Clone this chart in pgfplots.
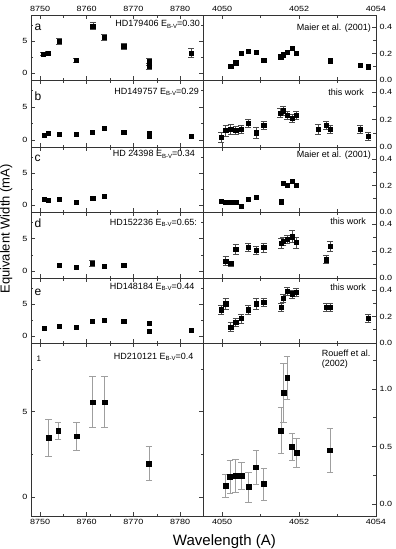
\documentclass[border=0pt]{standalone}
\usepackage{fontspec}
\setmainfont{Liberation Sans}
\newfontfamily\tickfont{Liberation Sans}[FakeStretch=1.2]
\usepackage{pgfplots}
\pgfplotsset{compat=1.18}
\newcommand{\ebv}{E\raisebox{-1.8pt}{\fontsize{6}{6}\selectfont B-V}}
\pgfplotsset{
  panel/.style={scale only axis, anchor=north west,
    axis line style={black!80, line width=0.6pt},
    tick align=inside, major tick length=4pt, minor tick length=2.5pt,
    every tick/.append style={black!75, line width=0.5pt},
    tick label style={font=\tickfont\fontsize{7.5}{8}\selectfont},
    /pgf/number format/assume math mode=true,
    /pgf/number format/1000 sep={},
    xtick pos=both},
  Lp/.style={panel, width=172pt, xmin=8748.07, xmax=8784.9,
    xtick={8750,8760,8770,8780}, minor xtick={8755,8765,8775},
    ymin=-1.05, ymax=9.1, ytick={0,5}, minor ytick={2.5,7.5},
    ytick pos=both, yticklabel pos=left},
  Rp/.style={panel, width=173pt, xmin=4049.5, xmax=4054,
    xtick={4050,4052,4054}, minor xtick={4051,4053},
    ymin=0, ymax=0.49, ytick={0,0.2,0.4}, minor ytick={0.1,0.3},
    ytick pos=right, yticklabel pos=right,
    yticklabel style={/pgf/number format/.cd, fixed, fixed zerofill, precision=1}},
  nolab/.style={xticklabels={}},
  toplab/.style={xticklabel pos=top},
  botlab/.style={xticklabel pos=bottom},
  pts/.style={only marks, mark=square*, mark size=2.1pt, color=black, mark options={fill=black, solid}},
  eb/.style={error bars/y dir=both, error bars/y explicit,
     error bars/error bar style={black!70, line width=0.5pt},
     error bars/error mark options={rotate=90, black!70, mark size=3pt, line width=0.5pt}},
  ebg/.style={error bars/y dir=both, error bars/y explicit,
     error bars/error bar style={gray!75, line width=0.5pt},
     error bars/error mark options={rotate=90, gray!75, mark size=3.2pt, line width=0.5pt}},
}
\begin{document}
\begin{tikzpicture}
\useasboundingbox (0pt,0pt) rectangle (396pt,-549pt);
% ---------------- panel a ----------------
\begin{axis}[Lp, toplab, at={(31pt,-15pt)}, height=65pt]
\addplot[pts, eb] coordinates {
(8750.7,3.04) +- (0,0.3)
(8751.8,3.19) +- (0,0.25)
(8754.1,5.0) +- (0,0.4)
(8757.7,2.0) +- (0,0.3)
(8761.3,7.4) +- (0,0.5)
(8763.8,5.67) +- (0,0.5)
(8767.9,4.22) +- (0,0.4)
(8773.4,1.8) +- (0,0.5)
(8773.3,1.13) +- (0,0.5)
(8782.4,3.14) +- (0,0.7)
};
\end{axis}
\begin{axis}[Rp, toplab, at={(203pt,-15pt)}, height=65pt]
\addplot[pts] coordinates {
(4050.22,0.105) (4050.35,0.13) (4050.50,0.20) (4050.68,0.215) (4050.88,0.21)
(4051.08,0.15) (4051.52,0.175) (4051.59,0.19) (4051.69,0.21) (4051.81,0.24)
(4051.93,0.205) (4052.80,0.145) (4053.59,0.113) (4053.80,0.10)
};
\end{axis}
% ---------------- panel b ----------------
\begin{axis}[Lp, nolab, at={(31pt,-80pt)}, height=67pt]
\addplot[pts] coordinates {
(8750.86,0.71) (8751.8,1.07) (8754.1,0.92) (8757.7,0.92) (8761.2,1.17)
(8763.8,1.79) (8767.9,1.22) (8773.3,1.02) (8773.4,0.56) (8782.4,0.61)
};
\end{axis}
\begin{axis}[Rp, nolab, at={(203pt,-80pt)}, height=67pt]
\addplot[pts, eb] coordinates {
(4049.97,0.07) +- (0,0.035)
(4050.09,0.12) +- (0,0.04)
(4050.22,0.13) +- (0,0.04)
(4050.35,0.12) +- (0,0.03)
(4050.50,0.13) +- (0,0.03)
(4050.68,0.175) +- (0,0.03)
(4050.88,0.105) +- (0,0.04)
(4051.08,0.16) +- (0,0.03)
(4051.51,0.25) +- (0,0.03)
(4051.59,0.265) +- (0,0.03)
(4051.69,0.23) +- (0,0.03)
(4051.81,0.21) +- (0,0.03)
(4051.93,0.23) +- (0,0.03)
(4052.49,0.13) +- (0,0.04)
(4052.70,0.16) +- (0,0.03)
(4052.80,0.13) +- (0,0.03)
(4053.59,0.13) +- (0,0.03)
(4053.80,0.08) +- (0,0.03)
};
\end{axis}
% ---------------- panel c ----------------
\begin{axis}[Lp, nolab, at={(31pt,-147pt)}, height=65pt]
\addplot[pts] coordinates {
(8750.86,0.92) (8751.8,0.77) (8754.1,0.92) (8757.7,0.51) (8761.3,1.13) (8763.8,1.44)
};
\end{axis}
\begin{axis}[Rp, nolab, at={(203pt,-147pt)}, height=65pt]
\addplot[pts] coordinates {
(4049.97,0.081) (4050.09,0.076) (4050.22,0.071) (4050.35,0.071) (4050.50,0.043)
(4050.68,0.096) (4050.88,0.111) (4051.53,0.078) (4051.59,0.22) (4051.69,0.205)
(4051.81,0.233) (4051.93,0.20)
};
\end{axis}
% ---------------- panel d ----------------
\begin{axis}[Lp, nolab, at={(31pt,-212pt)}, height=66pt]
\addplot[pts] coordinates {
(8754.1,0.86) (8757.7,0.56) (8763.8,0.81) (8767.9,0.86)
};
\addplot[pts, eb] coordinates {
(8761.2,1.21) +- (0,0.5)
};
\end{axis}
\begin{axis}[Rp, nolab, at={(203pt,-212pt)}, height=66pt]
\addplot[pts, eb] coordinates {
(4050.09,0.126) +- (0,0.035)
(4050.22,0.108) +- (0,0.02)
(4050.35,0.214) +- (0,0.035)
(4050.68,0.226) +- (0,0.03)
(4050.88,0.204) +- (0,0.03)
(4051.08,0.226) +- (0,0.035)
(4051.53,0.257) +- (0,0.035)
(4051.59,0.274) +- (0,0.03)
(4051.69,0.287) +- (0,0.03)
(4051.81,0.307) +- (0,0.045)
(4051.93,0.264) +- (0,0.04)
(4052.70,0.136) +- (0,0.03)
(4052.80,0.236) +- (0,0.04)
};
\end{axis}
% ---------------- panel e ----------------
\begin{axis}[Lp, nolab, at={(31pt,-278pt)}, height=65pt]
\addplot[pts] coordinates {
(8750.86,1.21) (8754.1,1.63) (8757.7,1.37) (8761.2,2.37) (8763.8,2.47)
(8767.9,2.37) (8773.3,2.0) (8773.4,0.74) (8782.4,0.95)
};
\end{axis}
\begin{axis}[Rp, nolab, at={(203pt,-278pt)}, height=65pt]
\addplot[pts, eb] coordinates {
(4049.97,0.251) +- (0,0.035)
(4050.09,0.297) +- (0,0.04)
(4050.22,0.12) +- (0,0.035)
(4050.35,0.156) +- (0,0.03)
(4050.50,0.184) +- (0,0.035)
(4050.68,0.251) +- (0,0.035)
(4050.88,0.297) +- (0,0.04)
(4051.08,0.307) +- (0,0.03)
(4051.53,0.268) +- (0,0.03)
(4051.59,0.335) +- (0,0.03)
(4051.69,0.39) +- (0,0.03)
(4051.81,0.371) +- (0,0.03)
(4051.93,0.383) +- (0,0.03)
(4052.71,0.268) +- (0,0.03)
(4052.80,0.268) +- (0,0.03)
(4053.80,0.184) +- (0,0.03)
};
\end{axis}
% ---------------- panel f ----------------
\begin{axis}[Lp, botlab, at={(31pt,-343pt)}, height=173pt, ymin=-1.13, ymax=9.04]
\addplot[pts, mark size=2.4pt, ebg] coordinates {
(8751.8,3.46) +- (0,1.1)
(8753.9,3.87) +- (0,0.5)
(8757.8,3.56) +- (0,0.8)
(8761.2,5.56) +- (0,1.5)
(8763.8,5.56) +- (0,1.5)
(8773.3,1.96) +- (0,1.0)
};
\end{axis}
\begin{axis}[Rp, botlab, at={(203pt,-343pt)}, height=173pt, ymin=-0.105, ymax=1.40,
  ytick={0,0.5,1}, minor ytick={0.25,0.75,1.25}]
\addplot[pts, mark size=2.4pt, ebg] coordinates {
(4050.09,0.157) +- (0,0.1)
(4050.20,0.235) +- (0,0.145)
(4050.35,0.247) +- (0,0.145)
(4050.50,0.247) +- (0,0.116)
(4050.68,0.148) +- (0,0.13)
(4050.88,0.32) +- (0,0.145)
(4051.08,0.174) +- (0,0.14)
(4051.53,0.637) +- (0,0.2)
(4051.59,0.968) +- (0,0.26)
(4051.69,1.099) +- (0,0.19)
(4051.81,0.497) +- (0,0.116)
(4051.93,0.445) +- (0,0.125)
(4052.80,0.468) +- (0,0.19)
};
\end{axis}
% ---------------- texts ----------------
\def\lfont{\fontsize{12}{12}\selectfont}
\def\tfont{\fontsize{9}{9}\selectfont}
\node[anchor=base west, inner sep=0, font=\lfont] at (34.5pt,-30.5pt) {a};
\node[anchor=base west, inner sep=0, font=\lfont] at (34.5pt,-100pt) {b};
\node[anchor=base west, inner sep=0, font=\lfont] at (34.5pt,-161.5pt) {c};
\node[anchor=base west, inner sep=0, font=\lfont] at (34.5pt,-227pt) {d};
\node[anchor=base west, inner sep=0, font=\lfont] at (34.5pt,-295pt) {e};
\node[anchor=base west, inner sep=0, font=\fontsize{8}{8}\selectfont] at (36.5pt,-361.7pt) {1};
\node[anchor=base east, inner sep=0, font=\tfont] at (200pt,-26.7pt) {HD179406 \ebv=0.30};
\node[anchor=base east, inner sep=0, font=\tfont] at (199pt,-94pt) {HD149757 \ebv=0.29};
\node[anchor=base east, inner sep=0, font=\tfont] at (195pt,-156.7pt) {HD 24398 \ebv=0.34};
\node[anchor=base east, inner sep=0, font=\tfont] at (197pt,-225pt) {HD152236 \ebv=0.65:};
\node[anchor=base east, inner sep=0, font=\tfont] at (194.5pt,-289pt) {HD148184 \ebv=0.44};
\node[anchor=base east, inner sep=0, font=\tfont] at (193.5pt,-359pt) {HD210121 \ebv=0.4};
\node[anchor=base east, inner sep=0, font=\tfont] at (371pt,-30pt) {Maier et al. (2001)};
\node[anchor=base east, inner sep=0, font=\tfont] at (364pt,-95pt) {this work};
\node[anchor=base east, inner sep=0, font=\tfont] at (371pt,-157pt) {Maier et al. (2001)};
\node[anchor=base east, inner sep=0, font=\tfont] at (366pt,-224pt) {this work};
\node[anchor=base east, inner sep=0, font=\tfont] at (366pt,-290pt) {this work};
\node[anchor=base west, inner sep=0, font=\tfont] at (321.7pt,-356.7pt) {Roueff et al.};
\node[anchor=base west, inner sep=0, font=\tfont] at (321.7pt,-366pt) {(2002)};
\node[anchor=base east, inner sep=0, font=\fontsize{15}{15}\selectfont] at (276pt,-545pt) {Wavelength (A)};
\node[anchor=base, rotate=90, inner sep=0, font=\fontsize{13}{13}\selectfont] at (9.5pt,-229pt) {Equivalent Width (mA)};
\end{tikzpicture}
\end{document}
